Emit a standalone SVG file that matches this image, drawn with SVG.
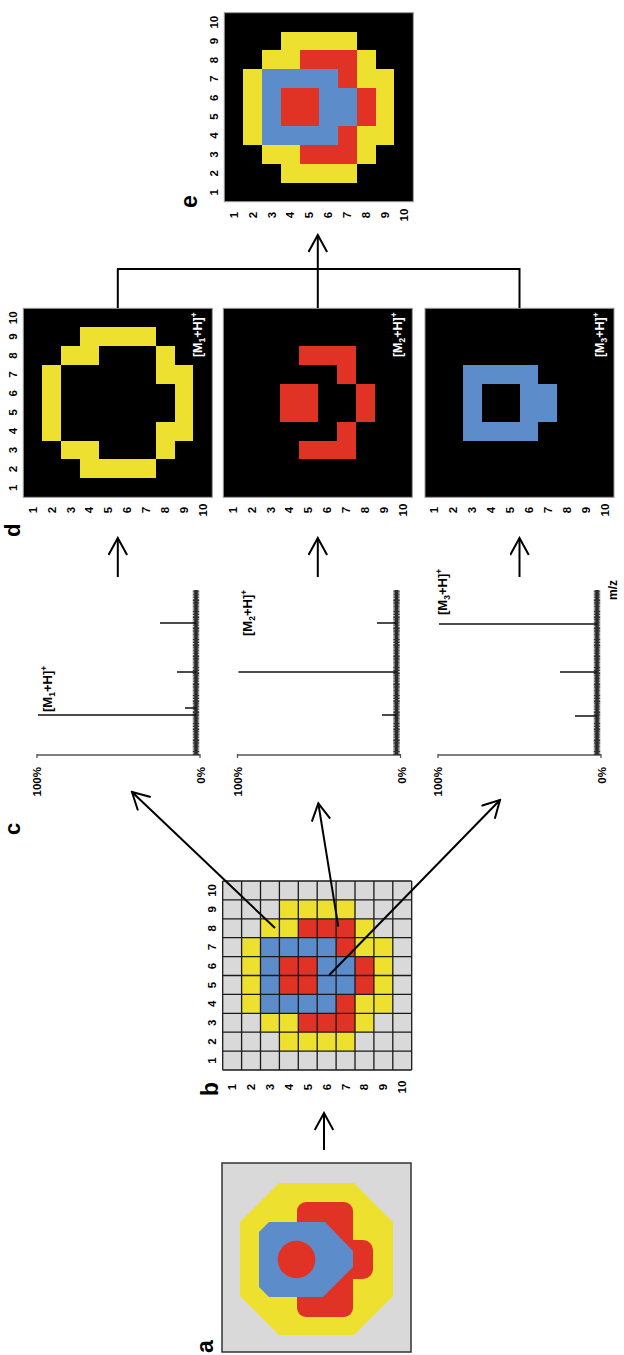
<svg xmlns="http://www.w3.org/2000/svg" xmlns:xlink="http://www.w3.org/1999/xlink" width="624" height="1355" viewBox="0 0 624 1355">
<defs>
<style>
text { font-family: "Liberation Sans", Arial, sans-serif; font-weight: bold; fill: #000; }
.num { font-size: 11.5px; text-anchor: middle; }
.lbl { font-size: 23px; }
.lbs { font-size: 22px; }
.pct { font-size: 11.5px; text-anchor: end; }
.ion { font-size: 13px; }
.ionw { font-size: 12.5px; fill: #fff; text-anchor: end; }
.ss { font-size: 8.5px; }
.Y { fill: #eee02e; }
.R { fill: #e03325; }
.B { fill: #5d8ccb; }
.G { fill: #d9d9d9; }
.K { fill: #000; }
.frame { fill: none; stroke: #9a9a9a; stroke-width: 1; }
.gridl { fill: none; stroke: #1a1a1a; stroke-width: 1.3; }
.arrow { fill: none; stroke: #000; stroke-width: 2; marker-end: url(#ah); }
.link { fill: none; stroke: #000; stroke-width: 2; }
.axis { fill: none; stroke: #555; stroke-width: 1.3; }
.base { fill: none; stroke: #222; stroke-width: 3.5; }
.noise { fill: none; stroke: #333; stroke-width: 6.5; stroke-dasharray: 1 0.4 0.6 0.6 1.4 0.3 0.5 0.8; }
.peak { fill: none; stroke: #111; stroke-width: 1.5; }
</style>
<marker id="ah" viewBox="0 0 20 20" refX="18" refY="10" markerWidth="20" markerHeight="20" markerUnits="userSpaceOnUse" orient="auto">
<path d="M1,0.7 L18,10 L1,19.3" fill="none" stroke="#000" stroke-width="2"/>
</marker>
<g id="cY" class="Y">
<rect x="30" y="10" width="40" height="10"/>
<rect x="20" y="20" width="10" height="10"/><rect x="70" y="20" width="10" height="10"/>
<rect x="10" y="30" width="20" height="10"/><rect x="70" y="30" width="20" height="10"/>
<rect x="10" y="40" width="10" height="30"/><rect x="80" y="40" width="10" height="30"/>
<rect x="20" y="70" width="20" height="10"/><rect x="60" y="70" width="20" height="10"/>
<rect x="30" y="80" width="40" height="10"/>
</g>
<g id="cR" class="R">
<rect x="40" y="30" width="20" height="20"/>
<rect x="20" y="40" width="10" height="30"/><rect x="30" y="60" width="10" height="10"/>
<rect x="70" y="40" width="10" height="30"/><rect x="60" y="60" width="10" height="10"/>
<rect x="40" y="70" width="20" height="10"/>
</g>
<g id="cB" class="B">
<rect x="30" y="20" width="40" height="10"/>
<rect x="30" y="30" width="10" height="20"/><rect x="60" y="30" width="10" height="20"/>
<rect x="30" y="50" width="40" height="10"/>
<rect x="40" y="60" width="20" height="10"/>
</g>
<g id="colN">
<text class="num" x="9.45">1</text><text class="num" x="28.35">2</text><text class="num" x="47.25">3</text><text class="num" x="66.15">4</text><text class="num" x="85.05">5</text><text class="num" x="103.95">6</text><text class="num" x="122.85">7</text><text class="num" x="141.75">8</text><text class="num" x="160.65">9</text><text class="num" x="179.55">10</text>
</g>
<g id="rowN">
<text class="num" y="13.45">1</text><text class="num" y="32.35">2</text><text class="num" y="51.25">3</text><text class="num" y="70.15">4</text><text class="num" y="89.05">5</text><text class="num" y="107.95">6</text><text class="num" y="126.85">7</text><text class="num" y="145.75">8</text><text class="num" y="164.65">9</text><text class="num" y="183.55">10</text>
</g>
</defs>
<rect width="624" height="1355" fill="#fff"/>
<g transform="translate(0,1355) rotate(-90)">

<g id="panel-a">
<rect x="3" y="222" width="189" height="189" class="G" stroke="#333" stroke-width="1.5"/>
<polygon class="Y" points="59,240 133,240 172,279 172,354 133,393 59,393 20,354 20,279"/>
<rect class="R" x="38" y="297" width="115" height="56" rx="9"/>
<rect class="R" x="76" y="335" width="39" height="38" rx="10"/>
<path class="B" d="M68,259 L123,259 L133,269 L133,325 L104,353 L88,353 L58,323 L58,269 Z"/>
<circle class="R" cx="95.5" cy="296.5" r="18.8"/>
<text class="lbl" x="2" y="213">a</text>
</g>

<g id="panel-b" transform="translate(285,222.7)">
<rect x="0" y="0" width="189" height="189" class="G"/>
<g transform="scale(1.89)" shape-rendering="crispEdges">
<use href="#cY"/><use href="#cR"/><use href="#cB"/>
</g>
<path class="gridl" d="M0,0 V189 M18.9,0 V189 M37.8,0 V189 M56.7,0 V189 M75.6,0 V189 M94.5,0 V189 M113.4,0 V189 M132.3,0 V189 M151.2,0 V189 M170.1,0 V189 M189,0 V189 M0,0 H189 M0,18.9 H189 M0,37.8 H189 M0,56.7 H189 M0,75.6 H189 M0,94.5 H189 M0,113.4 H189 M0,132.3 H189 M0,151.2 H189 M0,170.1 H189 M0,189 H189"/>
<use href="#colN" y="-6.5"/>
<use href="#rowN" x="-17"/>
<text class="lbl" x="-26" y="-4.7">b</text>
</g>

<g id="panel-c1">
<path class="axis" d="M600,37 V200 M597,37 H601 M597,200 H601"/>
<path class="base" d="M600,196 H765"/>
<path class="noise" d="M600,196 H765"/>
<path class="peak" d="M640,196 V38 M647,196 V185 M683,196 V177 M732,196 V160"/>
<text class="pct" x="588" y="41">100%</text>
<text class="pct" x="588" y="205">0%</text>
<text class="ion" x="643" y="52">[M<tspan class="ss" dy="3">1</tspan><tspan dy="-3">+H]</tspan><tspan class="ss" dy="-5">+</tspan></text>
<text class="lbs" x="520" y="20">c</text>
</g>

<g id="panel-c2">
<path class="axis" d="M600,237.5 V400.5 M597,237.5 H601 M597,400.5 H601"/>
<path class="base" d="M600,396.5 H765"/>
<path class="noise" d="M600,396.5 H765"/>
<path class="peak" d="M683,396.5 V238.5 M640,396.5 V382 M732,396.5 V377"/>
<text class="pct" x="588" y="241.5">100%</text>
<text class="pct" x="588" y="405.5">0%</text>
<text class="ion" x="719" y="252">[M<tspan class="ss" dy="3">2</tspan><tspan dy="-3">+H]</tspan><tspan class="ss" dy="-5">+</tspan></text>
</g>

<g id="panel-c3">
<path class="axis" d="M600,438 V601 M597,438 H601 M597,601 H601"/>
<path class="base" d="M600,597 H765"/>
<path class="noise" d="M600,597 H765"/>
<path class="peak" d="M731,597 V439 M683,597 V560 M639,597 V575"/>
<text class="pct" x="588" y="442">100%</text>
<text class="pct" x="588" y="606">0%</text>
<text class="ion" x="740" y="447">[M<tspan class="ss" dy="3">3</tspan><tspan dy="-3">+H]</tspan><tspan class="ss" dy="-5">+</tspan></text>
<text style="font-size:12px" x="755" y="617">m/z</text>
</g>

<g id="panel-d1" transform="translate(857.7,23.3)">
<rect class="K" width="189" height="189"/>
<g transform="scale(1.89)" shape-rendering="crispEdges"><use href="#cY"/></g>
<rect class="frame" width="189" height="189"/>
<text class="ionw" x="185" y="179">[M<tspan class="ss" dy="3">1</tspan><tspan dy="-3">+H]</tspan><tspan class="ss" dy="-5">+</tspan></text>
<use href="#colN" y="-6.3"/>
<use href="#rowN" x="-12.7"/>
<text class="lbs" x="-39.7" y="-3.3">d</text>
</g>

<g id="panel-d2" transform="translate(857.7,223.3)">
<rect class="K" width="189" height="189"/>
<g transform="scale(1.89)" shape-rendering="crispEdges"><use href="#cR"/></g>
<rect class="frame" width="189" height="189"/>
<text class="ionw" x="185" y="179">[M<tspan class="ss" dy="3">2</tspan><tspan dy="-3">+H]</tspan><tspan class="ss" dy="-5">+</tspan></text>
<use href="#rowN" x="-12.7"/>
</g>

<g id="panel-d3" transform="translate(857.7,425)">
<rect class="K" width="189" height="189"/>
<g transform="scale(1.89)" shape-rendering="crispEdges"><use href="#cB"/></g>
<rect class="frame" width="189" height="189"/>
<text class="ionw" x="185" y="179">[M<tspan class="ss" dy="3">3</tspan><tspan dy="-3">+H]</tspan><tspan class="ss" dy="-5">+</tspan></text>
<use href="#rowN" x="-12.7"/>
</g>

<g id="panel-e" transform="translate(1153.3,224.3)">
<rect class="K" width="189" height="189"/>
<g transform="scale(1.89)" shape-rendering="crispEdges"><use href="#cY"/><use href="#cR"/><use href="#cB"/></g>
<rect class="frame" width="189" height="189"/>
<use href="#colN" y="-6.3"/>
<use href="#rowN" x="-13.3"/>
<text class="lbl" x="-6.3" y="-27.3">e</text>
</g>

<g id="connectors">
<path class="arrow" d="M205,324 H242"/>
<path class="arrow" d="M427,275 L563,132"/>
<path class="arrow" d="M428.3,338.3 L551.7,318.3"/>
<path class="arrow" d="M380,329.3 L555,500"/>
<path class="arrow" d="M778,117.8 H817"/>
<path class="arrow" d="M778,317.8 H817"/>
<path class="arrow" d="M778,519.5 H817"/>
<path class="link" d="M1047,117.8 H1086 M1047,317.8 H1086 M1047,519.5 H1086 M1086,117 V520.5"/>
<path class="arrow" d="M1086,317.8 H1120"/>
</g>

</g>
</svg>
